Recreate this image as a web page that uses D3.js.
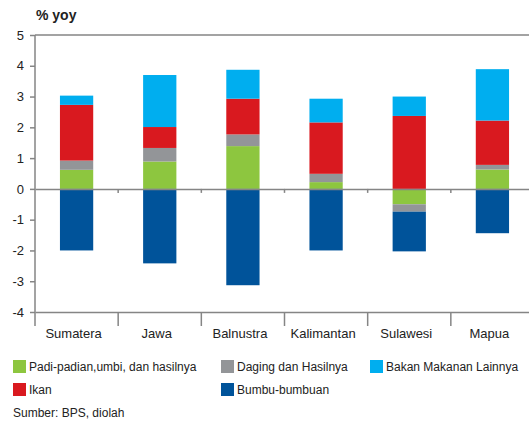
<!DOCTYPE html>
<meta charset="utf-8">
<script src="https://d3js.org/d3.v7.min.js"></script>
<style>
  body { margin: 0; background: #fff; }
  text { font-family: "Liberation Sans", Arial, sans-serif; fill: #222; }
</style>
<div id="my_dataviz"></div>
<script>

// categories and series (% yoy)
var regions = ["Sumatera", "Jawa", "Balnustra", "Kalimantan", "Sulawesi", "Mapua"];
var padi    = [0.62, 0.89, 1.39, 0.22, -0.50, 0.63];
var daging  = [0.30, 0.44, 0.38, 0.27, -0.24, 0.15];
var ikan    = [1.81, 0.68, 1.16, 1.67, 2.37, 1.44];
var lainnya = [0.30, 1.69, 0.94, 0.77, 0.63, 1.67];
var bumbu   = [-2.00, -2.42, -3.13, -2.00, -1.29, -1.44];
var yTicks  = [5, 4, 3, 2, 1, 0, -1, -2, -3, -4];

var seriesKeys = ["padi", "daging", "ikan", "lainnya", "bumbu"];
var seriesNames = {
  padi: "Padi-padian,umbi, dan hasilnya",
  daging: "Daging dan Hasilnya",
  lainnya: "Bakan Makanan Lainnya",
  ikan: "Ikan",
  bumbu: "Bumbu-bumbuan"
};
var color = d3.scaleOrdinal()
  .domain(seriesKeys)
  .range(["#8dc63f", "#939598", "#d9191f", "#00aeef", "#00539a"]);

// build table for the stack
var data = regions.map(function(r, i) {
  return {region: r, padi: padi[i], daging: daging[i], ikan: ikan[i], lainnya: lainnya[i], bumbu: bumbu[i]};
});

var W = 529, H = 427;
var plotLeft = 35, plotRight = 534, plotTop = 35, plotBottom = 312;

var svg = d3.select("#my_dataviz")
  .append("svg")
    .attr("width", W)
    .attr("height", H);

var xb = d3.scaleBand().domain(regions).range([plotLeft, plotRight]);

var y = d3.scaleLinear()
  .domain([-4, 5])
  .range([plotBottom, plotTop]);

var axisColor = "#858585";

// top border
svg.append("line")
  .attr("x1", plotLeft).attr("x2", W)
  .attr("y1", y(5)).attr("y2", y(5))
  .attr("stroke", axisColor).attr("stroke-width", 1.5);

// stacked bars
var stacked = d3.stack()
  .keys(seriesKeys)
  .offset(d3.stackOffsetDiverging)(data);

svg.append("g")
  .selectAll("g")
  .data(stacked)
  .enter().append("g")
    .attr("fill", function(d) { return color(d.key); })
  .selectAll("rect")
  .data(function(d) { return d; })
  .enter().append("rect")
    .attr("x", function(d) { return xb(d.data.region) + xb.bandwidth() * 0.3; })
    .attr("width", xb.bandwidth() * 0.4)
    .attr("y", function(d) { return y(Math.max(d[0], d[1])); })
    .attr("height", function(d) { return Math.abs(y(d[0]) - y(d[1])); });

// y axis
var yAxis = svg.append("g")
  .attr("transform", "translate(" + plotLeft + ",0)")
  .call(d3.axisLeft(y).tickValues(yTicks).tickSize(5).tickPadding(6).tickFormat(function(d) { return String(d); }));
yAxis.select(".domain").remove();
yAxis.selectAll(".tick line").attr("stroke", axisColor).attr("stroke-width", 1.5);
yAxis.selectAll(".tick text").attr("font-size", 13).attr("font-family", "Liberation Sans, Arial, sans-serif").attr("fill", "#222");
svg.append("line")
  .attr("x1", plotLeft).attr("x2", plotLeft)
  .attr("y1", plotTop).attr("y2", plotBottom + 14)
  .attr("stroke", axisColor).attr("stroke-width", 1.5);

// zero line with small ticks
var zeroAxis = svg.append("g")
  .attr("transform", "translate(0," + y(0) + ")")
  .call(d3.axisBottom(xb).tickValues([]).tickSizeOuter(0));
zeroAxis.select(".domain").attr("stroke", axisColor).attr("stroke-width", 1.5);
zeroAxis.selectAll(".bnd").data(regions.slice(1)).enter().append("line")
  .attr("x1", function(d) { return xb(d); }).attr("x2", function(d) { return xb(d); })
  .attr("y1", 0).attr("y2", 4)
  .attr("stroke", axisColor).attr("stroke-width", 1.5);

// bottom axis with category labels
var xAxis = svg.append("g")
  .attr("transform", "translate(0," + plotBottom + ")")
  .call(d3.axisBottom(xb).tickSize(0).tickPadding(17).tickSizeOuter(0));
xAxis.select(".domain").attr("stroke", axisColor).attr("stroke-width", 1.5);
xAxis.selectAll(".tick text").attr("font-size", 13).attr("font-family", "Liberation Sans, Arial, sans-serif").attr("fill", "#222").attr("dx", "-3");
xAxis.selectAll(".bnd").data(regions.slice(1)).enter().append("line")
  .attr("x1", function(d) { return xb(d); }).attr("x2", function(d) { return xb(d); })
  .attr("y1", 0).attr("y2", 14)
  .attr("stroke", axisColor).attr("stroke-width", 1.5);

// title
svg.append("text")
  .attr("x", 36).attr("y", 20)
  .attr("font-size", 14).attr("font-weight", "bold")
  .text("% yoy");

// legend
var legendItems = [
  {key: "padi", x: 13, y: 360},
  {key: "daging", x: 221, y: 360},
  {key: "lainnya", x: 370, y: 360},
  {key: "ikan", x: 13, y: 383},
  {key: "bumbu", x: 221, y: 383}
];
var lg = svg.append("g").selectAll("g").data(legendItems).enter().append("g")
  .attr("transform", function(d) { return "translate(" + d.x + "," + d.y + ")"; });
lg.append("rect").attr("width", 13).attr("height", 13).attr("fill", function(d) { return color(d.key); });
lg.append("text").attr("x", 16).attr("y", 11).attr("font-size", 12)
  .text(function(d) { return seriesNames[d.key]; });

// source
svg.append("text")
  .attr("x", 13).attr("y", 417)
  .attr("font-size", 12)
  .text("Sumber: BPS, diolah");

</script>
